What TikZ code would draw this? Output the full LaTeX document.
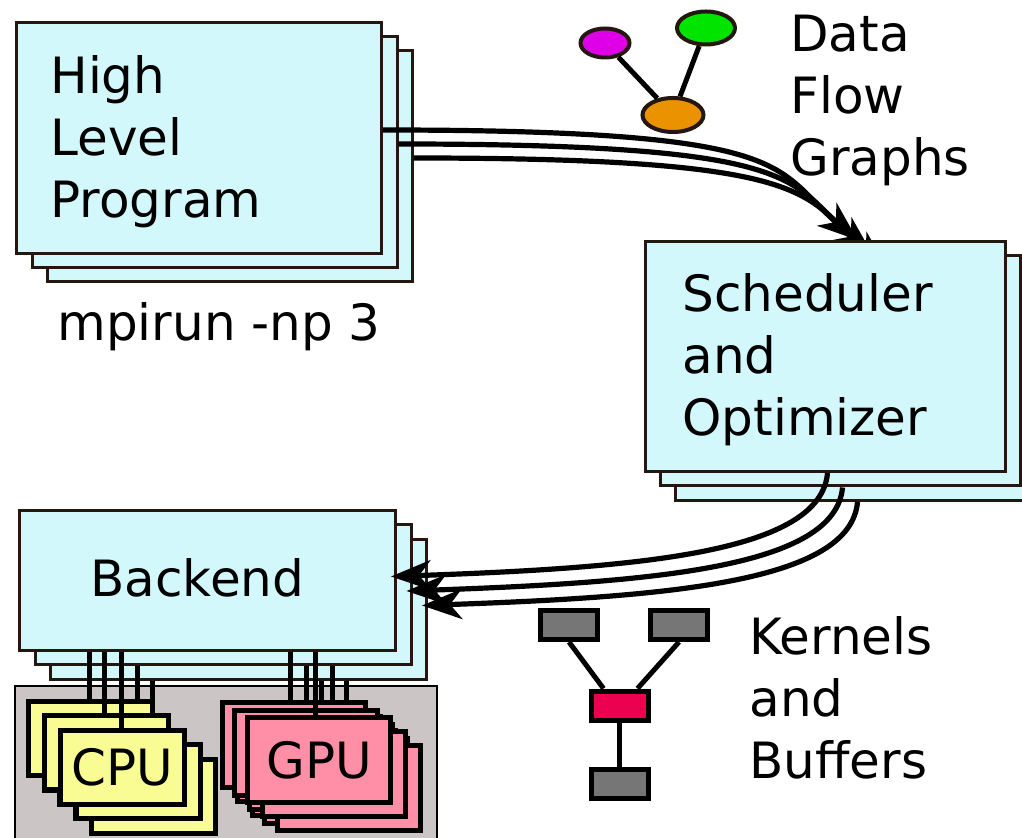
\documentclass[tikz,border=0pt]{standalone}
\usepackage{fontspec}
\setmainfont{DejaVu Sans}
\usetikzlibrary{arrows.meta,shapes.geometric}
\definecolor{paleblue}{HTML}{D2F8FC}
\definecolor{edgebrown}{HTML}{231710}
\definecolor{cpuyellow}{HTML}{F9FC92}
\definecolor{gpupink}{HTML}{FF8FA7}
\definecolor{hostgray}{HTML}{CBC5C5}
\definecolor{kerngray}{HTML}{767676}
\definecolor{kernred}{HTML}{EC0050}
\definecolor{dfgmagenta}{HTML}{DE00E6}
\definecolor{dfggreen}{HTML}{00E400}
\definecolor{dfgorange}{HTML}{EB9200}
\pgfdeclarelayer{front}
\pgfsetlayers{main,front}
\tikzset{
  layer/.style={draw=edgebrown, fill=paleblue, line width=1.5pt, inner sep=0pt},
  hlpbox/.style={layer, minimum width=182.5pt, minimum height=115.5pt},
  schedbox/.style={layer, minimum width=180pt, minimum height=115pt},
  backbox/.style={layer, minimum width=188pt, minimum height=70pt},
  cpubox/.style={draw=black, fill=cpuyellow, line width=2.5pt, inner sep=0pt,
    minimum width=62pt, minimum height=37pt},
  gpubox/.style={draw=black, fill=gpupink, line width=2.5pt, inner sep=0pt,
    minimum width=71.5pt, minimum height=42.5pt},
  hostbox/.style={draw=black, fill=hostgray, line width=1pt, inner sep=0pt,
    minimum width=211pt, minimum height=86pt},
  flow/.style={line width=2.6pt, -{Stealth[length=20pt, width=15pt, inset=6pt]}},
  wire/.style={line width=2.5pt},
  dfg/.style={ellipse, draw=edgebrown, line width=2pt, inner sep=0pt},
  kern/.style={draw=black, line width=2.5pt, inner sep=0pt,
    minimum width=28.5pt, minimum height=14.5pt},
  link/.style={line width=2.5pt},
  lbl/.style={align=left, inner sep=0pt}
}
\begin{document}
\begin{tikzpicture}[x=0.5pt, y=-0.5pt, font=\fontsize{25}{31}\selectfont]
\useasboundingbox (0,0) rectangle (1022,838);
\def\sx{15.5}
\def\sy{14.5}
% Scheduler stack (kept above the incoming arrows)
\begin{pgfonlayer}{front}
\foreach \i in {2,1,0}
  \node[schedbox] (sched\i) at ({825.5+15*\i},{356.5+\sy*\i}) {};
\node[lbl, anchor=base west] (schedtxt) at (682,436) {Scheduler\\and\\Optimizer};
\end{pgfonlayer}
% High level program stack
\foreach \i in {2,1,0}
  \node[hlpbox] (hlp\i) at ({199+\sx*\i},{138+14*\i}) {};
\node[lbl, anchor=base west] (hlptxt) at (50,218) {High\\Level\\Program};
\node[lbl, anchor=base west] (mpitxt) at (57,341) {mpirun -np 3};
% Program to scheduler
\foreach \i in {0,1,2}
  \draw[flow] ([yshift=4pt]hlp\i.east)
    to[out=0, in=140, out distance=210pt, in distance=56pt] ([xshift=16pt]sched\i.north);
% Backend stack
\foreach \i in {2,1,0}
  \node[backbox] (back\i) at ({207.5+\sx*\i},{580.5+\sy*\i}) {};
\node[lbl, anchor=base west] (backtxt) at (90,597) {Backend};
% Scheduler to backend
\begin{pgfonlayer}{front}
\foreach \i in {0,1,2}
  \draw[flow] ([xshift=1pt]sched\i.south)
    to[out=-95, in=2, out distance=40pt, in distance=125pt] ([xshift=-3pt,yshift=2pt]back\i.east);
\end{pgfonlayer}
% Devices
\node[hostbox] (host) at (225.5,772) {};
\foreach \k in {0,1,2}
  \foreach \i in {2,1,0}
    \node[cpubox] (cpu\k\i) at ({90.5+16*\k+\sx*\i},{738.5+14.25*\k+\sy*\i}) {};
\node (cputxt) at (cpu20) {CPU};
\foreach \k in {0,1,2}
  \foreach \i in {2,1,0}
    \node[gpubox] (gpu\k\i) at ({293.5+12.75*\k+15*\i},{745+7.5*\k+14*\i}) {};
\node (gputxt) at (gpu20) {GPU};
% Wires from backend to devices
\foreach \x/\src/\dst in {89/back0/cpu00, 104/back0/cpu10, 121/back0/cpu20,
    137/back1/cpu00, 152/back2/cpu00, 290/back0/gpu00, 306/back1/gpu00,
    315/back0/gpu20, 321/back2/gpu00, 332/back1/gpu00, 346/back2/gpu00}
  \draw[wire] (\x,0 |- \src.south) -- (\x,0 |- \dst.north);
% Data flow graph
\node[dfg, fill=dfgmagenta, minimum width=24.5pt, minimum height=14.5pt] (dmag) at (605,43) {};
\node[dfg, fill=dfggreen, minimum width=29pt, minimum height=16.5pt] (dgreen) at (706,28) {};
\node[dfg, fill=dfgorange, minimum width=30.5pt, minimum height=17pt] (dorange) at (673,115) {};
\draw[link] (dmag) -- (dorange);
\draw[link] (dgreen) -- (dorange);
\node[lbl, anchor=base west] (dfgtxt) at (790,176) {Data\\Flow\\Graphs};
% Kernels and buffers
\node[kern, fill=kerngray] (kin1) at (569,625) {};
\node[kern, fill=kerngray] (kin2) at (679,625) {};
\node[kern, fill=kernred] (kmid) at (619.5,705.5) {};
\node[kern, fill=kerngray] (kout) at (619.5,784) {};
\draw[link] (kin1.south) -- ([xshift=-8pt]kmid.north);
\draw[link] (kin2.south) -- ([xshift=9pt]kmid.north);
\draw[link] (kmid) -- (kout);
\node[lbl, anchor=base west] (kerntxt) at (749,778) {Kernels\\and\\Buffers};
\end{tikzpicture}
\end{document}
